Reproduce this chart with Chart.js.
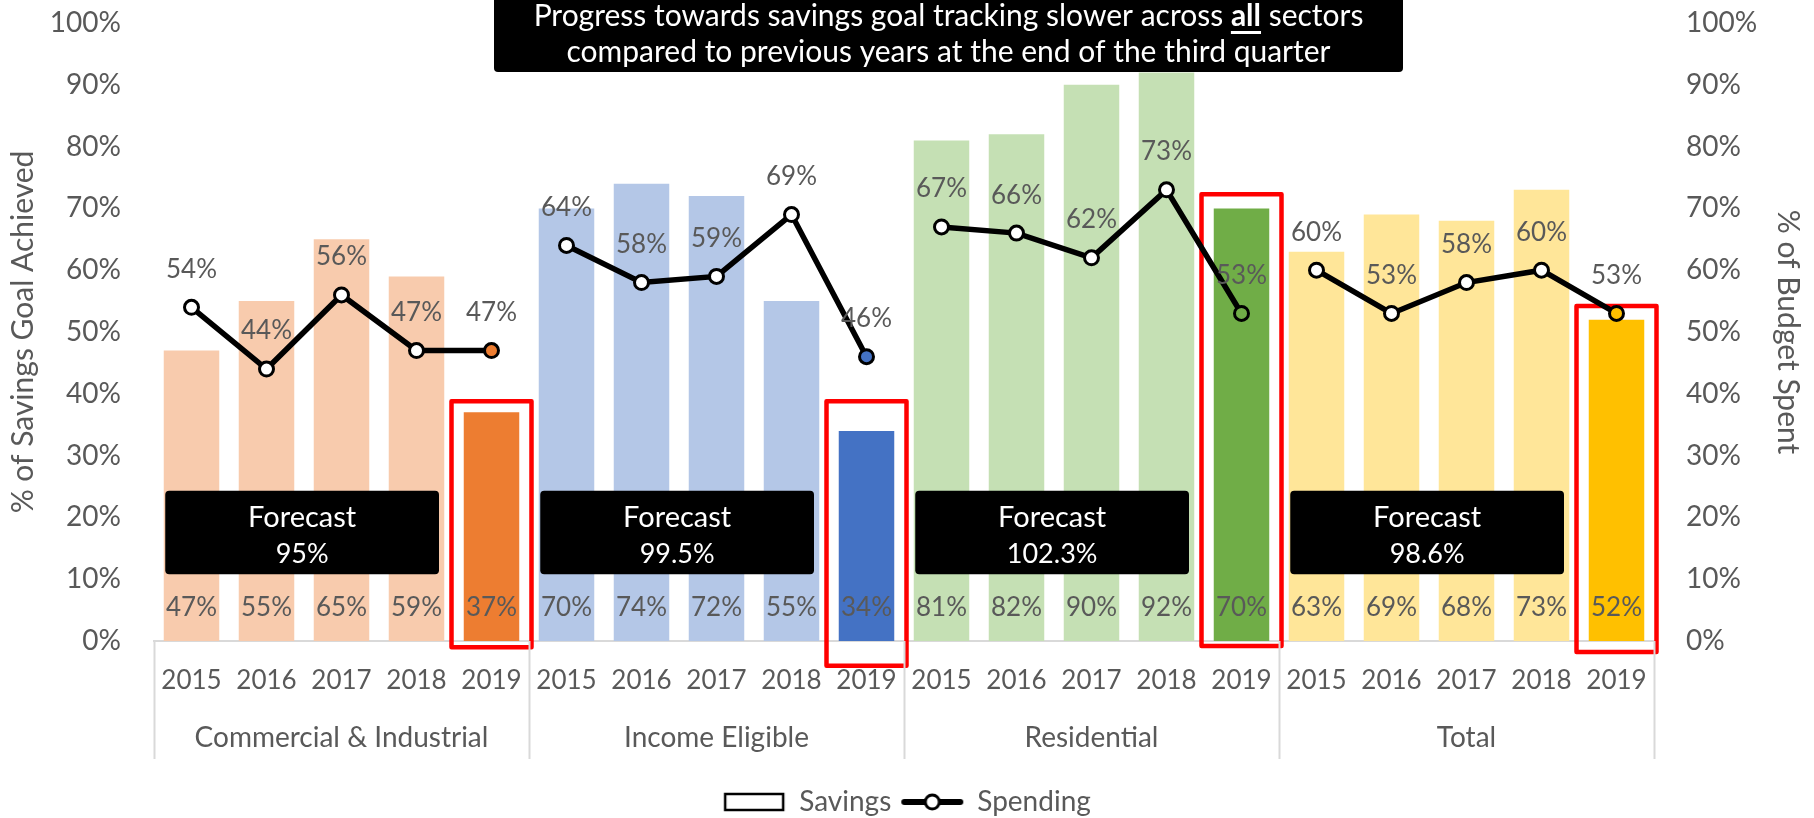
<!DOCTYPE html>
<html><head><meta charset="utf-8">
<script src="https://cdn.jsdelivr.net/npm/chart.js@4.4.1/dist/chart.umd.min.js"></script>
<style>html,body{margin:0;padding:0;background:#fff;overflow:hidden}#wrap{width:1814px;height:818px;position:relative}</style>
</head><body><div id="wrap"><canvas id="c" width="1814" height="818"></canvas></div>
<script>
// ---- data ----
const groups = ['Commercial & Industrial', 'Income Eligible', 'Residential', 'Total'];
const years = ['2015', '2016', '2017', '2018', '2019'];
const savingsCI = [47, 55, 65, 59, 37];
const savingsIE = [70, 74, 72, 55, 34];
const savingsRes = [81, 82, 90, 92, 70];
const savingsTotal = [63, 69, 68, 73, 52];
const spendingCI = [54, 44, 56, 47, 47];
const spendingIE = [64, 58, 59, 69, 46];
const spendingRes = [67, 66, 62, 73, 53];
const spendingTotal = [60, 53, 58, 60, 53];
const forecastLabels = ['95%', '99.5%', '102.3%', '98.6%'];
const yTickValues = [0, 10, 20, 30, 40, 50, 60, 70, 80, 90, 100];

// ---- styles ----
const lightColors = ['#F8CBAD', '#B4C7E7', '#C5E0B4', '#FFE699'];
const darkColors = ['#ED7D31', '#4472C4', '#70AD47', '#FFC000'];
const FONT = 'Lato, "Open Sans", sans-serif';
const GREY = '#595959';

const savingsAll = [savingsCI, savingsIE, savingsRes, savingsTotal].flat();
const spendingAll = [spendingCI, spendingIE, spendingRes, spendingTotal].flat();
const labels = groups.flatMap(() => years);
const barColors = labels.map((_, i) => (i % 5 === 4 ? darkColors : lightColors)[Math.floor(i / 5)]);
const pointFill = labels.map((_, i) => i % 5 === 4 ? darkColors[Math.floor(i / 5)] : '#FFFFFF');

// annotation layout (value units)
const forecastBox = { x0: -0.35, x1: 3.3, yTop: 24.3, yBot: 10.8, line1: 19.9, line2: 14.0 };
const redTop = [38.8, 38.8, 72.3, 54.2];
const redBot = [-1.0, -4.0, -0.8, -1.8];

function makeIcon(kind) {
  const c = document.createElement('canvas');
  c.width = 64; c.height = 22;
  const g = c.getContext('2d');
  if (kind === 'bar') {
    g.fillStyle = '#fff'; g.strokeStyle = '#000'; g.lineWidth = 2.5;
    g.fillRect(3, 3, 58, 16); g.strokeRect(3, 3, 58, 16);
  } else {
    g.strokeStyle = '#000'; g.lineWidth = 6; g.lineCap = 'round';
    g.beginPath(); g.moveTo(4, 11); g.lineTo(60, 11); g.stroke();
    g.beginPath(); g.arc(32, 11, 7, 0, Math.PI * 2);
    g.fillStyle = '#fff'; g.fill(); g.lineWidth = 3; g.stroke();
  }
  return c;
}
const iconBar = makeIcon('bar');
const iconLine = makeIcon('line');

const annot = {
  id: 'annot',
  afterDatasetDraw(chart, args) {
    if (args.index !== 0) return;
    const { ctx } = chart;
    const xs = chart.scales.x, ys = chart.scales.y;
    ctx.save();
    // forecast boxes
    groups.forEach((g, gi) => {
      const x0 = xs.getPixelForValue(gi * 5 + forecastBox.x0);
      const x1 = xs.getPixelForValue(gi * 5 + forecastBox.x1);
      const y0 = ys.getPixelForValue(forecastBox.yTop);
      const y1 = ys.getPixelForValue(forecastBox.yBot);
      ctx.fillStyle = '#000';
      ctx.beginPath();
      ctx.roundRect(x0, y0, x1 - x0, y1 - y0, 4);
      ctx.fill();
      ctx.fillStyle = '#fff';
      ctx.font = '29px ' + FONT;
      ctx.textAlign = 'center'; ctx.textBaseline = 'middle';
      ctx.fillText('Forecast', (x0 + x1) / 2, ys.getPixelForValue(forecastBox.line1));
      ctx.font = '27px ' + FONT;
      ctx.fillText(forecastLabels[gi], (x0 + x1) / 2, ys.getPixelForValue(forecastBox.line2));
    });
    // bar value labels
    ctx.fillStyle = GREY;
    ctx.font = '26px ' + FONT;
    ctx.textAlign = 'center'; ctx.textBaseline = 'middle';
    const base = ys.getPixelForValue(0);
    savingsAll.forEach((v, i) => {
      ctx.fillText(v + '%', xs.getPixelForValue(i), base - 33);
    });
    // red boxes
    ctx.strokeStyle = '#FF0000'; ctx.lineWidth = 4.5; ctx.lineJoin = 'round';
    groups.forEach((g, gi) => {
      const cx = xs.getPixelForValue(gi * 5 + 4);
      const t = ys.getPixelForValue(redTop[gi]);
      const b = ys.getPixelForValue(redBot[gi]);
      ctx.strokeRect(cx - 40, t, 80, b - t);
    });
    ctx.restore();
  },
  afterDatasetsDraw(chart) {
    const { ctx } = chart;
    const xs = chart.scales.x, ys = chart.scales.y;
    const half = (xs.getPixelForValue(1) - xs.getPixelForValue(0)) / 2;
    const base = ys.getPixelForValue(0);
    ctx.save();
    // line value labels
    ctx.fillStyle = GREY;
    ctx.font = '26px ' + FONT;
    ctx.textAlign = 'center'; ctx.textBaseline = 'middle';
    spendingAll.forEach((v, i) => {
      ctx.fillText(v + '%', xs.getPixelForValue(i), ys.getPixelForValue(v) - 38);
    });
    // group separators and labels
    ctx.strokeStyle = '#D9D9D9'; ctx.lineWidth = 2;
    for (let gi = 0; gi <= groups.length; gi++) {
      const x = Math.round(xs.getPixelForValue(gi * 5) - half) + 0.5;
      ctx.beginPath(); ctx.moveTo(x, base); ctx.lineTo(x, base + 118); ctx.stroke();
    }
    ctx.fillStyle = GREY;
    ctx.font = '28px ' + FONT;
    groups.forEach((g, gi) => {
      ctx.fillText(g, xs.getPixelForValue(gi * 5 + 2), base + 97);
    });
    // title box
    const tx0 = 494, tx1 = 1403;
    ctx.fillStyle = '#000';
    ctx.beginPath(); ctx.roundRect(tx0, -6, tx1 - tx0, 78, 4); ctx.fill();
    ctx.fillStyle = '#fff';
    const TS = 30;
    const cx = (tx0 + tx1) / 2;
    const p1 = 'Progress towards savings goal tracking slower across ';
    const p2 = 'all';
    const p3 = ' sectors';
    ctx.font = TS + 'px ' + FONT;
    const w1 = ctx.measureText(p1).width, w3 = ctx.measureText(p3).width;
    ctx.font = 'bold ' + TS + 'px ' + FONT;
    const w2 = ctx.measureText(p2).width;
    let sx = cx - (w1 + w2 + w3) / 2;
    ctx.textAlign = 'left';
    ctx.font = TS + 'px ' + FONT; ctx.fillText(p1, sx, 16);
    ctx.font = 'bold ' + TS + 'px ' + FONT; ctx.fillText(p2, sx + w1, 16);
    ctx.fillRect(sx + w1, 31, w2, 3);
    ctx.font = TS + 'px ' + FONT; ctx.fillText(p3, sx + w1 + w2, 16);
    ctx.textAlign = 'center';
    ctx.fillText('compared to previous years at the end of the third quarter', cx, 52);
    ctx.restore();
  }
};

const xTickFont = { family: FONT, size: 26 };
const yTickFont = { family: FONT, size: 28 };
const axisTitleFont = { family: FONT, size: 30 };
new Chart(document.getElementById('c'), {
  data: {
    labels: labels,
    datasets: [
      {
        type: 'bar', label: 'Savings', data: savingsAll, yAxisID: 'y',
        backgroundColor: barColors, borderWidth: 0,
        barPercentage: 0.74, categoryPercentage: 1.0, order: 2
      },
      {
        type: 'line', label: 'Spending', data: spendingAll, yAxisID: 'y1',
        borderColor: '#000', borderWidth: 5.5,
        segment: { borderColor: c => (c.p0DataIndex % 5 === 4) ? 'rgba(0,0,0,0)' : '#000' },
        pointRadius: 7, pointHoverRadius: 7, pointBorderWidth: 3,
        pointBackgroundColor: pointFill, pointBorderColor: '#000',
        tension: 0, fill: false, order: 1
      }
    ]
  },
  options: {
    responsive: false, animation: false,
    layout: { padding: { top: 23, bottom: -8, left: 0, right: 0 } },
    plugins: {
      tooltip: { enabled: false },
      legend: {
        position: 'bottom',
        labels: {
          usePointStyle: true, pointStyleWidth: 62, padding: 10,
          color: GREY, font: { family: FONT, size: 28 },
          generateLabels: () => [
            { text: 'Savings', pointStyle: iconBar, fillStyle: '#fff', strokeStyle: '#000', lineWidth: 0, fontColor: GREY, datasetIndex: 0 },
            { text: 'Spending', pointStyle: iconLine, fillStyle: '#fff', strokeStyle: '#000', lineWidth: 0, fontColor: GREY, datasetIndex: 1 }
          ]
        }
      }
    },
    scales: {
      x: {
        type: 'category',
        grid: { display: false, drawTicks: false },
        border: { display: true, color: '#D9D9D9', width: 2 },
        ticks: { color: GREY, font: xTickFont, padding: 24, maxRotation: 0, autoSkip: false },
        afterFit: s => { s.height = 137; }
      },
      y: {
        position: 'left', min: 0, max: 100,
        afterBuildTicks: s => { s.ticks = yTickValues.map(v => ({ value: v })); },
        grid: { display: false, drawTicks: false },
        border: { display: false },
        ticks: { color: GREY, font: yTickFont, padding: 33, callback: v => v + '%' },
        title: { display: true, text: '% of Savings Goal Achieved', color: GREY, font: axisTitleFont, padding: { top: 5, bottom: 0 } },
        afterFit: s => { s.width = 154; s.paddingTop = 0; s.paddingBottom = 0; }
      },
      y1: {
        position: 'right', min: 0, max: 100,
        afterBuildTicks: s => { s.ticks = yTickValues.map(v => ({ value: v })); },
        grid: { display: false, drawTicks: false },
        border: { display: false },
        ticks: { color: GREY, font: yTickFont, padding: 32, callback: v => v + '%' },
        title: { display: true, text: '% of Budget Spent', color: GREY, font: axisTitleFont, padding: { top: 8, bottom: 0 } },
        afterFit: s => { s.width = 160; s.paddingTop = 0; s.paddingBottom = 0; }
      }
    }
  },
  plugins: [annot]
});
</script></body></html>
